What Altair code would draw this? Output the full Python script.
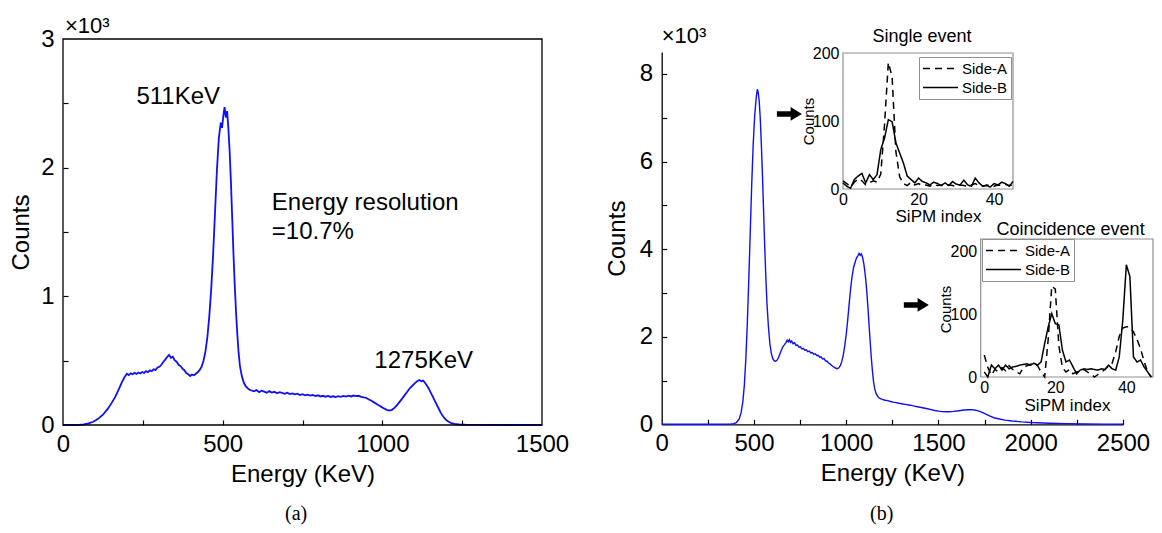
import altair as alt
import pandas as pd

# ---------------- canvas / layout (pixels inside the chart group) ----------------
W, H = 1146, 517
FONT = "Liberation Sans"
SERIF = "Liberation Serif"
BLUE = "#0f0fff"
GREY = "#8f8f8f"

A_X = [55, 534]
A_Y = [417, 31]
B_X = [653.7, 1115]
B_Y = [416.3, 44]
I1_X = [835, 1005]
I1_Y = [181, 45]
I2_X = [972.7, 1145]
I2_Y = [369, 231]

# ---------------- data: panel (a) spectrum ----------------
a_energy = [0, 30, 50, 65, 80, 95, 110, 125, 140, 152, 164, 176, 186, 194, 200, 206,
            212, 218, 224, 230, 236, 242, 248, 254, 260, 266, 272, 278, 284, 290, 296, 302,
            308, 314, 320, 326, 332, 338, 344, 350, 356, 362, 368, 374, 380, 386, 392, 398,
            404, 410, 416, 422, 428, 434, 440, 446, 452, 458, 464, 470, 476, 482, 488, 494,
            498, 502, 506, 510, 514, 518, 522, 526, 530, 534, 538, 542, 546, 550, 554, 560,
            566, 572, 578, 584, 590, 598, 606, 614, 622, 630, 638, 646, 654, 662, 670, 678,
            686, 694, 702, 710, 718, 726, 734, 742, 750, 758, 766, 774, 782, 790, 798, 806,
            814, 822, 830, 838, 846, 854, 862, 870, 878, 886, 894, 902, 910, 918, 926, 934,
            942, 950, 958, 966, 974, 982, 990, 998, 1006, 1014, 1022, 1030, 1038, 1046, 1054,
            1062, 1070, 1078, 1086, 1094, 1102, 1110, 1116, 1122, 1128, 1134, 1140, 1146,
            1152, 1158, 1164, 1170, 1176, 1182, 1188, 1194, 1200, 1208, 1216, 1226, 1240,
            1260, 1300, 1400, 1500]
a_counts = [0, 0, 1, 4, 12, 25, 48, 80, 125, 170, 220, 285, 340, 378, 398, 388,
            402, 394, 405, 397, 408, 400, 412, 404, 418, 410, 425, 418, 433, 428, 447, 452,
            468, 490, 508, 528, 545, 522, 530, 502, 492, 468, 458, 438, 426, 404, 394, 381,
            392, 386, 398, 410, 428, 452, 500, 570, 680, 840, 1050, 1320, 1650, 1980, 2230, 2350,
            2310, 2400, 2470, 2390, 2440, 2300, 2120, 1880, 1600, 1320, 1080, 870, 700, 560, 460, 380,
            330, 302, 287, 274, 268, 262, 271, 255, 266, 259, 250, 263, 252, 258, 247, 255,
            249, 242, 251, 240, 246, 238, 244, 233, 239, 231, 236, 228, 233, 225, 231, 222,
            227, 220, 226, 218, 223, 217, 224, 219, 226, 221, 228, 222, 229, 224, 227, 219,
            214, 210, 198, 188, 176, 164, 151, 139, 128, 118, 112, 118, 133, 155, 180,
            205, 232, 258, 285, 305, 325, 342, 350, 340, 345, 327, 305, 280,
            250, 220, 190, 160, 130, 100, 75, 55, 38, 25, 15, 8, 4,
            2, 1, 0, 0]

# ---------------- data: panel (b) spectrum ----------------
b_energy = [0, 200, 340, 360, 375, 390, 405, 420, 430, 440, 448, 456, 464, 472, 480, 488,
            496, 504, 512, 518, 522, 528, 534, 540, 546, 552, 558, 564, 570, 578, 586, 594,
            602, 610, 618, 626, 634, 642, 650, 658, 666, 674, 680, 686, 692, 698, 704, 712,
            720, 728, 736, 744, 752, 760, 768, 776, 784, 792, 800, 808, 816, 824, 832, 840,
            848, 856, 864, 872, 880, 888, 896, 904, 912, 920, 928, 936, 944, 952, 960, 968,
            976, 984, 992, 1000, 1008, 1016, 1024, 1032, 1040, 1048, 1056, 1064, 1070, 1076,
            1082, 1088, 1094, 1100, 1106, 1112, 1118, 1124, 1130, 1136, 1142, 1148, 1154,
            1162, 1172, 1182, 1195, 1210, 1225, 1240, 1255, 1270, 1285, 1300, 1320, 1340,
            1360, 1380, 1400, 1420, 1440, 1460, 1480, 1500, 1520, 1540, 1560, 1580, 1600,
            1620, 1640, 1660, 1680, 1700, 1720, 1740, 1760, 1780, 1800, 1830, 1860, 1900,
            1950, 2000, 2100, 2200, 2300, 2400, 2500]
b_counts = [0, 0, 0, 2, 6, 15, 40, 120, 260, 520, 900, 1500, 2300, 3300, 4400, 5500,
            6400, 7050, 7450, 7650, 7600, 7400, 7000, 6400, 5700, 4900, 4100, 3400, 2800, 2250, 1850, 1620,
            1500, 1450, 1440, 1470, 1530, 1620, 1710, 1780, 1820, 1870, 1920, 1880, 1930, 1870, 1900, 1840,
            1860, 1800, 1810, 1760, 1770, 1720, 1730, 1690, 1700, 1660, 1670, 1630, 1640, 1600, 1610, 1570,
            1575, 1530, 1540, 1490, 1500, 1450, 1440, 1400, 1380, 1350, 1320, 1300, 1280, 1270, 1290, 1340,
            1430, 1580, 1790, 2050, 2380, 2750, 3100, 3380, 3580, 3700, 3800, 3850, 3900, 3860,
            3890, 3820, 3700, 3520, 3300, 3000, 2650, 2250, 1880, 1520, 1220, 980, 820,
            700, 630, 590, 570, 550, 540, 520, 505, 495, 480, 470, 455, 440,
            425, 405, 390, 372, 355, 335, 315, 300, 290, 285, 288, 295, 305,
            315, 325, 332, 335, 322, 300, 265, 225, 185, 150, 120, 95, 75,
            55, 40, 25, 15, 8, 4, 2]

# ---------------- data: insets ----------------
single_index = list(range(46))
single_side_a = [12, 8, 3, 10, 15, 12, 6, 9, 12, 10, 22, 95, 186, 165, 55, 18, 8, 5, 10, 6,
                 8, 5, 6, 4, 7, 5, 6, 4, 6, 5, 4, 6, 5, 4, 6, 8, 5, 4, 6, 5, 4, 6, 5, 7, 5, 6]
single_side_b = [9, 4, 1, 14, 19, 23, 9, 21, 14, 21, 58, 75, 102, 99, 68, 53, 38, 19, 14, 9,
                 16, 11, 9, 6, 10, 8, 5, 9, 5, 11, 7, 6, 13, 6, 4, 16, 9, 4, 5, 3, 8, 6, 10, 8, 4, 11]

coinc_index = list(range(48))
coinc_side_a = [35, 15, 3, 12, 8, 15, 10, 18, 12, 8, 5, 15, 18, 20, 22, 18, 8, 0, 60, 145,
                140, 50, 15, 8, 12, 5, 8, 10, 12, 8, 5, 0, 4, 8, 12, 18, 22, 40, 65, 78,
                80, 80, 72, 60, 45, 25, 8, 0]
coinc_side_b = [8, 0, 19, 13, 19, 11, 19, 13, 16, 17, 19, 20, 21, 19, 22, 19, 24, 53, 80, 101,
                85, 83, 43, 24, 27, 16, 5, 11, 13, 12, 13, 12, 11, 13, 12, 19, 13, 11, 32, 91,
                179, 160, 32, 24, 27, 16, 8, 0]

sides = ["Side-A", "Side-B"]

# ---------------- annotations ----------------
a_notes = ["511KeV", "Energy resolution", "=10.7%", "1275KeV"]
a_notes_x = [230, 654, 654, 975]
a_notes_y = [2553, 1725, 1500, 497]
a_exp = ["×10³"]
a_exp_x = [6]
a_exp_y = [3047]
a_caption = ["(a)"]
a_caption_x = [730]
a_caption_y = [-690]

b_exp = ["×10³"]
b_exp_x = [0]
b_exp_y = [8708]
b_caption = ["(b)"]
b_caption_x = [1192]
b_caption_y = [-2045]
b_arrow_x = [692, 1380]
b_arrow_y = [7086, 2724]

i1_title = ["Single event"]
i1_title_x = [20.9]
i1_title_y = [223.5]
i2_title = ["Coincidence event"]
i2_title_x = [24.3]
i2_title_y = [234.3]

a_xlabels = [0, 500, 1000, 1500]
a_xticks = [250, 500, 750, 1000, 1250]
a_ylabels = [0, 1000, 2000, 3000]
a_yticks = [500, 1000, 1500, 2000, 2500]
b_xlabels = [0, 500, 1000, 1500, 2000, 2500]
b_xticks = [250, 500, 750, 1000, 1250, 1500, 1750, 2000, 2250, 2500]
b_ylabels = [0, 2000, 4000, 6000, 8000]
b_yticks = [1000, 2000, 3000, 4000, 5000, 6000, 7000, 8000]
inset_xlabels = [0, 20, 40]
inset_ylabels = [0, 100, 200]

ARROW = "M-1,-0.22L0.1,-0.22L0.1,-0.55L1,0L0.1,0.55L0.1,0.22L-1,0.22Z"


def ax(**kw):
    base = dict(grid=False, labelFont=FONT, titleFont=FONT, labelColor="black",
                titleColor="black", titleFontWeight="normal", labelFlush=False,
                labelOverlap=False, domainColor="black", tickColor="black")
    base.update(kw)
    return alt.Axis(**base)


def text_layer(xs, ys, xv, yv, tv, align, baseline, font, size):
    df = pd.DataFrame({"x": xv, "y": yv, "t": tv})
    return alt.Chart(df).mark_text(align=align, baseline=baseline, font=font, fontSize=size,
                                   color="black").encode(
        x=alt.X("x:Q", scale=xs, axis=None),
        y=alt.Y("y:Q", scale=ys, axis=None),
        text="t:N",
    )


# ================= panel (a) =================
xa = alt.Scale(domain=[0, 1500], range=A_X, nice=False, zero=False)
ya = alt.Scale(domain=[0, 3000], range=A_Y, nice=False, zero=False)
df_a = pd.DataFrame({"energy": a_energy, "counts": a_counts})

a_line = alt.Chart(df_a).mark_line(color=BLUE, strokeWidth=1.8).encode(
    x=alt.X("energy:Q", scale=xa, axis=ax(orient="bottom", offset=A_Y[0] - H, values=a_xlabels,
                                          format="d", ticks=False, domain=False, labelPadding=7,
                                          labelFontSize=24, title="Energy (KeV)", titleFontSize=24,
                                          titlePadding=6)),
    y=alt.Y("counts:Q", scale=ya, axis=ax(orient="left", offset=-A_X[0], values=a_ylabels,
                                          labelExpr="datum.value / 1000", ticks=False, domain=False,
                                          labelPadding=9, labelFontSize=24, title="Counts",
                                          titleFontSize=24, titlePadding=7)),
)

df_frame_a = pd.DataFrame({"x0": [0], "x1": [1500], "y0": [0], "y1": [3000]})
a_frame = alt.Chart(df_frame_a).mark_rect(fillOpacity=0, stroke="black", strokeWidth=1.3).encode(
    x=alt.X("x0:Q", scale=xa, axis=ax(orient="top", offset=-A_Y[0], values=a_xticks, tickSize=5,
                                      tickWidth=1.2, labels=False, domain=False, title=None)),
    x2="x1:Q",
    y=alt.Y("y0:Q", scale=ya, axis=ax(orient="right", offset=A_X[0] - W, values=a_yticks, tickSize=5,
                                      tickWidth=1.2, labels=False, domain=False, title=None)),
    y2="y1:Q",
)

a_text = text_layer(xa, ya, a_notes_x, a_notes_y, a_notes, "left", "middle", FONT, 24)
a_exp_t = text_layer(xa, ya, a_exp_x, a_exp_y, a_exp, "left", "alphabetic", FONT, 22)
a_cap = text_layer(xa, ya, a_caption_x, a_caption_y, a_caption, "center", "middle", SERIF, 20)

panel_a = alt.layer(a_line, a_frame, a_text, a_exp_t, a_cap).resolve_axis(x="independent", y="independent")

# ================= panel (b) =================
xb = alt.Scale(domain=[0, 2500], range=B_X, nice=False, zero=False)
yb = alt.Scale(domain=[0, 8500], range=B_Y, nice=False, zero=False)
df_b = pd.DataFrame({"energy": b_energy, "counts": b_counts})

b_line = alt.Chart(df_b).mark_line(color=BLUE, strokeWidth=1.4).encode(
    x=alt.X("energy:Q", scale=xb, axis=ax(orient="bottom", offset=B_Y[0] - H, values=b_xlabels,
                                          format="d", ticks=False, domain=True, domainWidth=1.3,
                                          labelPadding=7, labelFontSize=24, title="Energy (KeV)",
                                          titleFontSize=24, titlePadding=6)),
    y=alt.Y("counts:Q", scale=yb, axis=ax(orient="left", offset=-B_X[0], values=b_ylabels,
                                          labelExpr="datum.value / 1000", ticks=False, domain=True,
                                          domainWidth=1.3, labelPadding=9, labelFontSize=24,
                                          title="Counts", titleFontSize=24, titlePadding=10)),
)

df_anchor = pd.DataFrame({"x": [0], "y": [0]})
b_ticks = alt.Chart(df_anchor).mark_point(opacity=0).encode(
    x=alt.X("x:Q", scale=xb, axis=ax(orient="top", offset=-B_Y[0], values=b_xticks, tickSize=5,
                                     tickWidth=1.2, labels=False, domain=False, title=None)),
    y=alt.Y("y:Q", scale=yb, axis=ax(orient="right", offset=B_X[0] - W, values=b_yticks, tickSize=5,
                                     tickWidth=1.2, labels=False, domain=False, title=None)),
)

b_exp_t = text_layer(xb, yb, b_exp_x, b_exp_y, b_exp, "left", "alphabetic", FONT, 22)
b_cap = text_layer(xb, yb, b_caption_x, b_caption_y, b_caption, "center", "middle", SERIF, 20)
df_arrows = pd.DataFrame({"x": b_arrow_x, "y": b_arrow_y})
b_arrows = alt.Chart(df_arrows).mark_point(shape=ARROW, size=625, filled=True, color="black",
                                           opacity=1, strokeWidth=0).encode(
    x=alt.X("x:Q", scale=xb, axis=None),
    y=alt.Y("y:Q", scale=yb, axis=None),
)

panel_b = alt.layer(b_line, b_ticks, b_exp_t, b_cap, b_arrows).resolve_axis(x="independent", y="independent")


# ================= insets =================
def inset(index, side_a, side_b, xdom, xr, ydom, yr, title, tx, ty, legend_xy, ctitle_xy, ititle_xy):
    df = pd.DataFrame({
        "idx": list(index) + list(index),
        "counts": list(side_a) + list(side_b),
        "side": [sides[0]] * len(index) + [sides[1]] * len(index),
    })
    xs = alt.Scale(domain=xdom, range=xr, nice=False, zero=False)
    ys = alt.Scale(domain=ydom, range=yr, nice=False, zero=False)
    frame = alt.Chart(pd.DataFrame({"x0": [xdom[0]], "x1": [xdom[1]], "y0": [ydom[0]], "y1": [ydom[1]]})
                      ).mark_rect(fillOpacity=0, stroke=GREY, strokeWidth=1.2).encode(
        x=alt.X("x0:Q", scale=xs, axis=ax(orient="bottom", offset=yr[0] - H, values=inset_xlabels,
                                          format="d", ticks=False, domain=False, labelPadding=2,
                                          labelFontSize=16, title="SiPM index", titleFontSize=17,
                                          titleX=ititle_xy[0], titleY=ititle_xy[1],
                                          titleBaseline="middle")),
        x2="x1:Q",
        y=alt.Y("y0:Q", scale=ys, axis=ax(orient="left", offset=-xr[0], values=inset_ylabels,
                                          format="d", ticks=False, domain=False, labelPadding=4,
                                          labelFontSize=16, title="Counts", titleFontSize=15,
                                          titleX=ctitle_xy[0], titleY=ctitle_xy[1],
                                          titleBaseline="bottom")),
        y2="y1:Q",
    )
    lines = alt.Chart(df).mark_line(color="black", strokeWidth=1.5).encode(
        x=alt.X("idx:Q", scale=xs, axis=None),
        y=alt.Y("counts:Q", scale=ys, axis=None),
        strokeDash=alt.StrokeDash("side:N", scale=alt.Scale(domain=sides, range=[[7, 5], [1, 0]]),
                                  legend=alt.Legend(orient="none", legendX=legend_xy[0], legendY=legend_xy[1],
                                                    title=None, symbolType="stroke", symbolSize=1225,
                                                    symbolStrokeWidth=1.5, symbolStrokeColor="black",
                                                    labelFont=FONT, labelFontSize=15, labelColor="black",
                                                    clipHeight=17, rowPadding=2, padding=3,
                                                    strokeColor=GREY, fillColor="white", labelOffset=3)),
    )
    ttl = text_layer(xs, ys, [tx], [ty], [title], "center", "middle", FONT, 18)
    return alt.layer(frame, lines, ttl).resolve_axis(x="independent", y="independent")


inset1 = inset(single_index, single_side_a, single_side_b, [0, 45], I1_X, [0, 200], I1_Y,
               i1_title[0], i1_title_x[0], i1_title_y[0], (911, 49), (-27, 113), (930, 27))
inset2 = inset(coinc_index, coinc_side_a, coinc_side_b, [-1, 47.5], I2_X, [0, 220], I2_Y,
               i2_title[0], i2_title_x[0], i2_title_y[0], (974, 231), (-27, 301), (1059, 28))

chart = alt.layer(panel_a, panel_b, inset1, inset2).resolve_scale(
    x="independent", y="independent", strokeDash="independent"
).resolve_axis(
    x="independent", y="independent"
).resolve_legend(
    strokeDash="independent"
).properties(
    width=W, height=H, padding=0, autosize=alt.AutoSizeParams(type="none")
).configure_view(stroke="transparent")

chart.save("out.html", embed_options={"renderer": "svg", "actions": False})
